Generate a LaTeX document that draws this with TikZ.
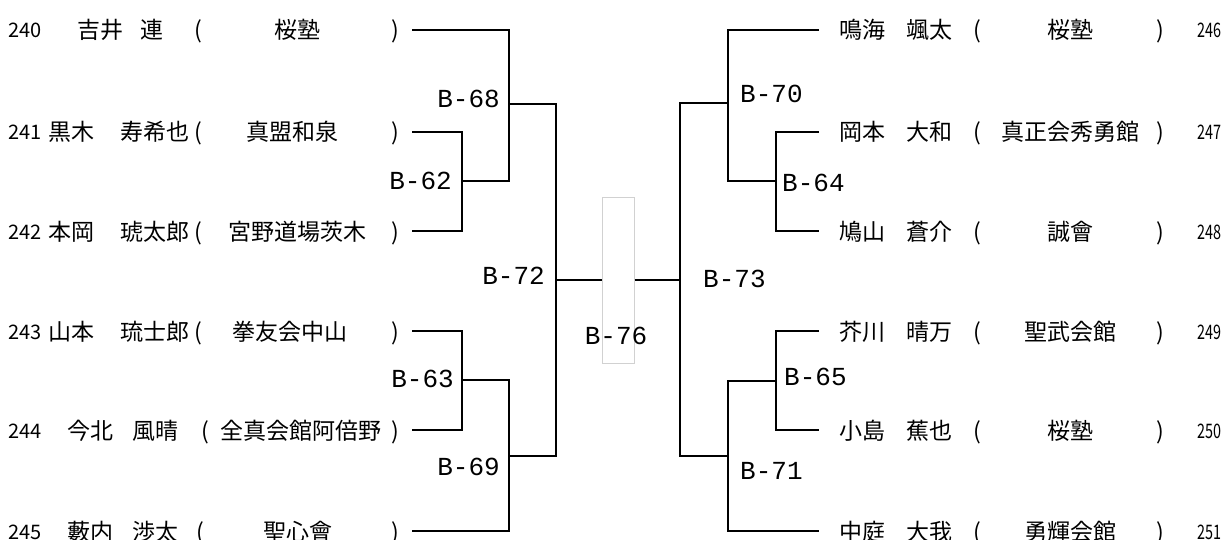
\documentclass[tikz,border=0pt]{standalone}
\usepackage{fontspec}
\newfontfamily\jpfont{Noto Sans CJK JP}
\newfontfamily\matchfont{Liberation Mono}
\tikzset{
  namefont/.style={font=\jpfont\fontsize{23}{26}\selectfont, inner sep=0pt},
  numfont/.style={font=\jpfont\fontsize{20}{24}\selectfont, inner sep=0pt},
  smallnum/.style={numfont, xscale=0.72},
  matchlabel/.style={font=\matchfont\fontsize{26}{28}\selectfont, inner sep=0pt},
  bracket/.style={line width=1.3pt},
}
\begin{document}
\begin{tikzpicture}[x=1pt,y=-1pt]
	\useasboundingbox (0,0) rectangle (1225,540);
	
	% Jugadores de la izquierda
	\foreach \n/\y/\xs/\sur/\xg/\giv/\xo/\xc/\club in {
		240/30/77/吉井/140/連/198/297/桜塾,
		241/132/48/黒木/120/寿希也/198/292/真盟和泉,
		242/231/48/本岡/120/琥太郎/198/297/宮野道場茨木,
		243/331/48/山本/120/琉士郎/198/290/拳友会中山,
		244/430/67/今北/132/風晴/205/301/全真会館阿倍野,
		245/531/67/藪内/132/渉太/200/298/聖心會}{
		\node[numfont, anchor=base west] (num\n) at (8,\y+8) {\n};
		\node[namefont, anchor=base west] (sur\n) at (\xs,\y+9) {\sur};
		\node[namefont, anchor=base west] (giv\n) at (\xg,\y+9) {\giv};
		\node[namefont, anchor=base] (op\n) at (\xo,\y+9) {(};
		\node[namefont, anchor=base] (club\n) at (\xc,\y+9) {\club};
		\node[namefont, anchor=base] (cl\n) at (395,\y+9) {)};
		\coordinate (p\n) at (412,\y);
	}
	
	% Jugadores de la derecha
	\foreach \n/\y/\sur/\giv/\club in {
		246/30/鳴海/颯太/桜塾,
		247/132/岡本/大和/真正会秀勇館,
		248/231/鳩山/蒼介/誠會,
		249/331/芥川/晴万/聖武会館,
		250/430/小島/蕉也/桜塾,
		251/531/中庭/大我/勇輝会館}{
		\node[namefont, anchor=base west] (sur\n) at (839,\y+9) {\sur};
		\node[namefont, anchor=base west] (giv\n) at (906,\y+9) {\giv};
		\node[namefont, anchor=base] (op\n) at (977,\y+9) {(};
		\node[namefont, anchor=base] (club\n) at (1070,\y+9) {\club};
		\node[namefont, anchor=base] (cl\n) at (1160,\y+9) {)};
		\node[smallnum, anchor=base west] (num\n) at (1197,\y+8) {\n};
		\coordinate (p\n) at (819,\y);
	}
	
	% Cruces
	\coordinate (m62) at (462,181);
	\coordinate (m63) at (462,380);
	\coordinate (m68) at (509,104);
	\coordinate (m69) at (509,456);
	\coordinate (m72) at (556,280);
	\coordinate (m73) at (680,280);
	\coordinate (m70) at (728,103);
	\coordinate (m71) at (728,456);
	\coordinate (m64) at (776,181);
	\coordinate (m65) at (776,381);
	
	% Final
	\node[draw=black!18, line width=1pt, minimum width=32, minimum height=166, inner sep=0pt] (final) at (618,280) {};
	
	% Llaves
	\draw[bracket] (p241) -| (m62) |- (p242);
	\draw[bracket] (p240) -| (m68) |- (m62);
	\draw[bracket] (p243) -| (m63) |- (p244);
	\draw[bracket] (m63) -| (m69) |- (p245);
	\draw[bracket] (m68) -| (m72) |- (m69);
	\draw[bracket] (m72) -- (final.west);
	\draw[bracket] (p247) -| (m64) |- (p248);
	\draw[bracket] (p246) -| (m70) |- (m64);
	\draw[bracket] (p249) -| (m65) |- (p250);
	\draw[bracket] (m65) -| (m71) |- (p251);
	\draw[bracket] (m70) -| (m73) |- (m71);
	\draw[bracket] (final.east) -- (m73);
	
	% Etiquetas de los combates
	\node[matchlabel, anchor=base east] (b68) at (500,107.5) {B-68};
	\node[matchlabel, anchor=base east] (b62) at (452,189.5) {B-62};
	\node[matchlabel, anchor=base east] (b72) at (545,284.5) {B-72};
	\node[matchlabel, anchor=base east] (b63) at (454,387.5) {B-63};
	\node[matchlabel, anchor=base east] (b69) at (500,475.5) {B-69};
	\node[matchlabel, anchor=base west] (b70) at (740,102.5) {B-70};
	\node[matchlabel, anchor=base west] (b64) at (782,191.5) {B-64};
	\node[matchlabel, anchor=base west] (b73) at (703,287.5) {B-73};
	\node[matchlabel, anchor=base west] (b65) at (784,385.5) {B-65};
	\node[matchlabel, anchor=base west] (b71) at (740,479.5) {B-71};
	\node[matchlabel, anchor=base] (b76) at (616,344) {B-76};
	
\end{tikzpicture}
\end{document}
